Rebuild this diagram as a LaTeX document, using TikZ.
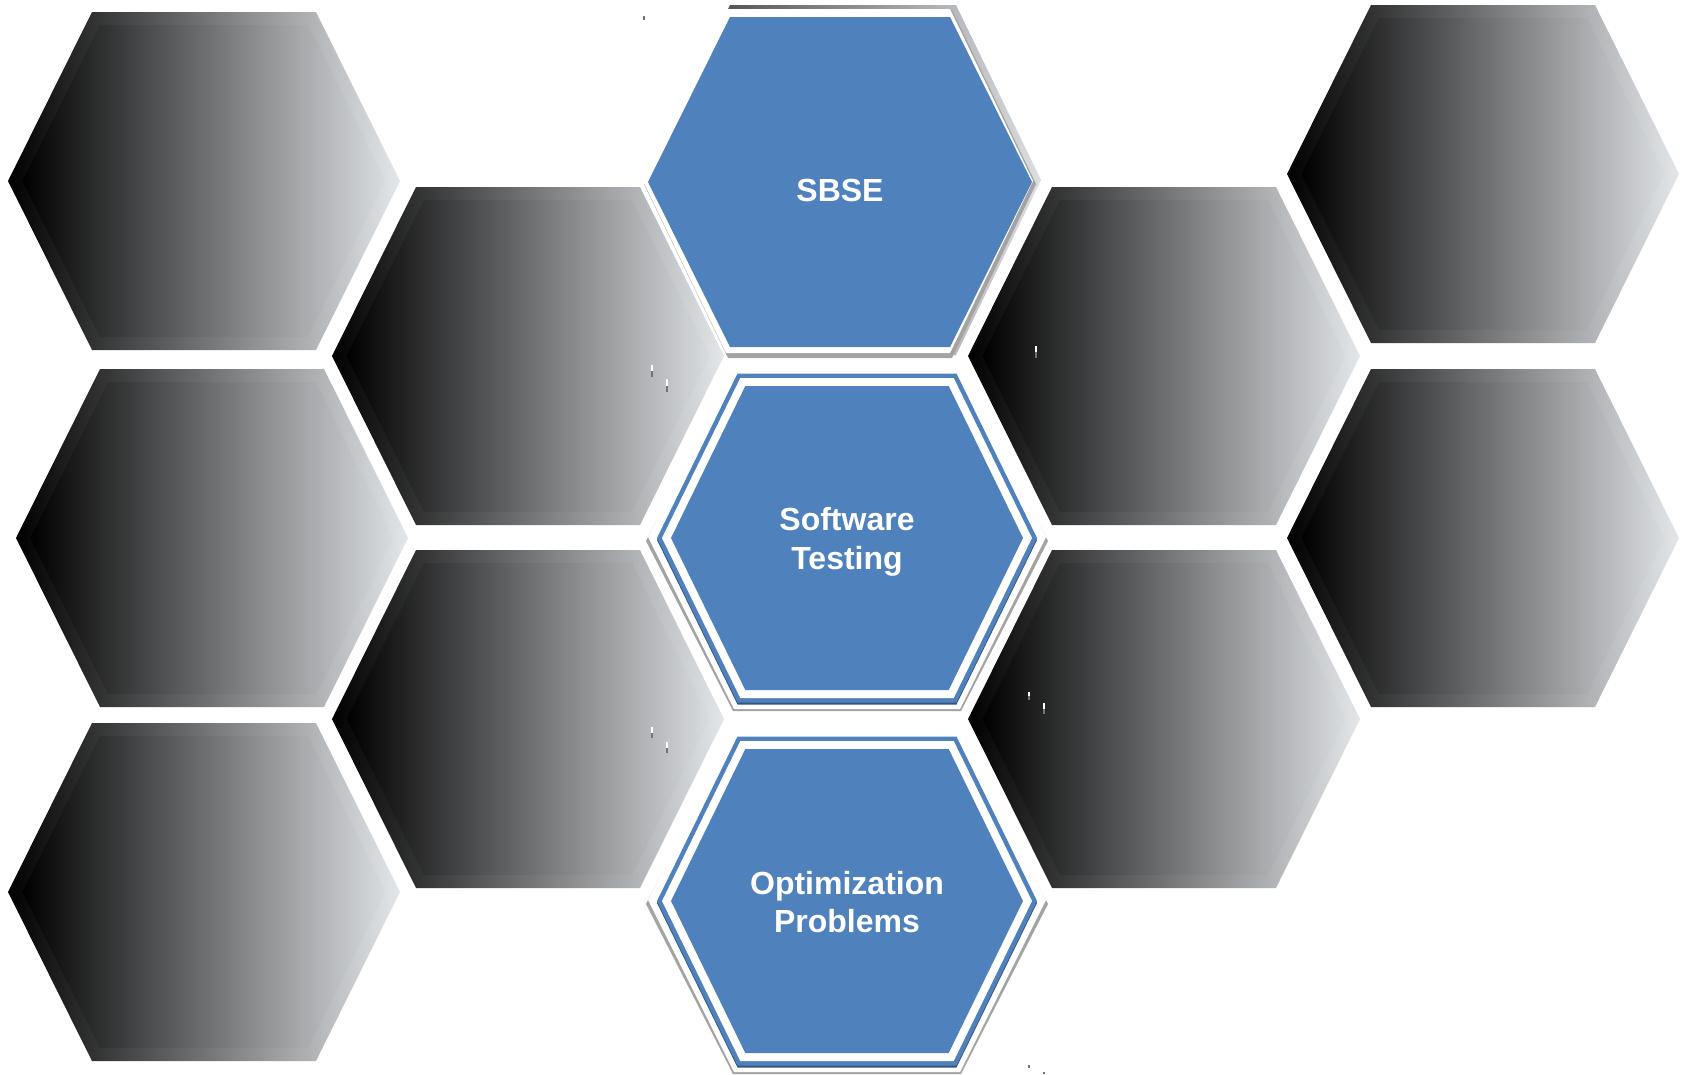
\documentclass[tikz,border=0pt]{standalone}
\usepackage{fontspec}
\setsansfont{Liberation Sans}
\definecolor{hexouter}{HTML}{E4E7EA}
\definecolor{hexinner}{HTML}{D9DCDF}
\definecolor{hexblue}{HTML}{4F81BD}
\definecolor{darkblue}{HTML}{34557E}
\definecolor{shadowgray}{HTML}{A3A3A3}
\definecolor{backlight}{HTML}{DCDFE2}
\newcommand\hexs[6]{\path[#1] ({#2-#4},{#3}) -- ({#2-#6},{#3-#5}) -- ({#2+#6},{#3-#5}) -- ({#2+#4},{#3}) -- ({#2+#6},{#3+#5}) -- ({#2-#6},{#3+#5}) -- cycle;}
\newcommand\grayhex[2]{\hexs{gbox}{#1}{#2}{196}{169}{112}\hexs{gin}{#1}{#2}{181.5}{156}{104}}
\newcommand\ringhex[2]{%
  \hexs{fill=shadowgray}{#1}{#2+3}{201}{170}{114}%
  \hexs{fill=white}{#1}{#2-1}{199}{172}{113}%
  \hexs{fill=darkblue}{#1}{#2+2}{190}{164.5}{109.5}%
  \hexs{fill=hexblue}{#1}{#2}{190}{164.5}{109.5}%
  \hexs{fill=white}{#1}{#2}{185}{160}{106.7}%
  \hexs{fill=hexblue}{#1}{#2}{176}{152}{101.7}}
\newcommand\tickmark[3]{\draw[line width=1.4pt,white] (#1,#2) -- (#1,{(#2+#3)/2});\draw[line width=1.4pt,black!55] (#1,{(#2+#3)/2}) -- (#1,#3);}
\begin{document}
\begin{tikzpicture}[x=1pt,y=-1pt,
  gbox/.style={left color=black, right color=hexouter},
  gin/.style={left color=black, right color=hexinner},
  gradback/.style={left color=black!80, right color=backlight},
  lbl/.style={text=white, font=\sffamily\bfseries\fontsize{32}{38.5}\selectfont, align=center, inner sep=0pt},
]
\fill[white] (0,0) rectangle (1686,1074);
\useasboundingbox (0,0) rectangle (1686,1074);
% gray hexagons
\grayhex{204}{181}
\grayhex{212}{538}
\grayhex{204}{892}
\grayhex{528}{356}
\grayhex{528}{719}
\grayhex{1164}{356}
\grayhex{1164}{719}
\grayhex{1483}{174}
\grayhex{1483}{538}
% SBSE
\hexs{gradback}{843}{180}{198}{175}{113}
\hexs{fill=shadowgray}{840}{184}{196}{174}{112}
\hexs{fill=white}{838}{181}{195}{172}{112}
\hexs{fill=hexblue}{840}{182}{192}{165}{110}
% Software Testing and Optimization Problems
\ringhex{847}{538}
\ringhex{847}{901}
% labels
\node[lbl, anchor=base] (sbse) at (840,201.5) {SBSE};
\node[lbl] (st) at (847,542) {Software\\Testing};
\node[lbl] (op) at (847,902) {Optimization\\Problems};
% small marks
\tickmark{644}{12}{20}
\tickmark{652}{365}{377}
\tickmark{667}{379}{392}
\tickmark{1036}{346}{358}
\tickmark{652}{727}{738}
\tickmark{667}{742}{753}
\tickmark{1029}{692}{700}
\tickmark{1044}{703}{714}
\tickmark{1029}{1062}{1068}
\tickmark{1044}{1069}{1074}
\end{tikzpicture}
\end{document}
